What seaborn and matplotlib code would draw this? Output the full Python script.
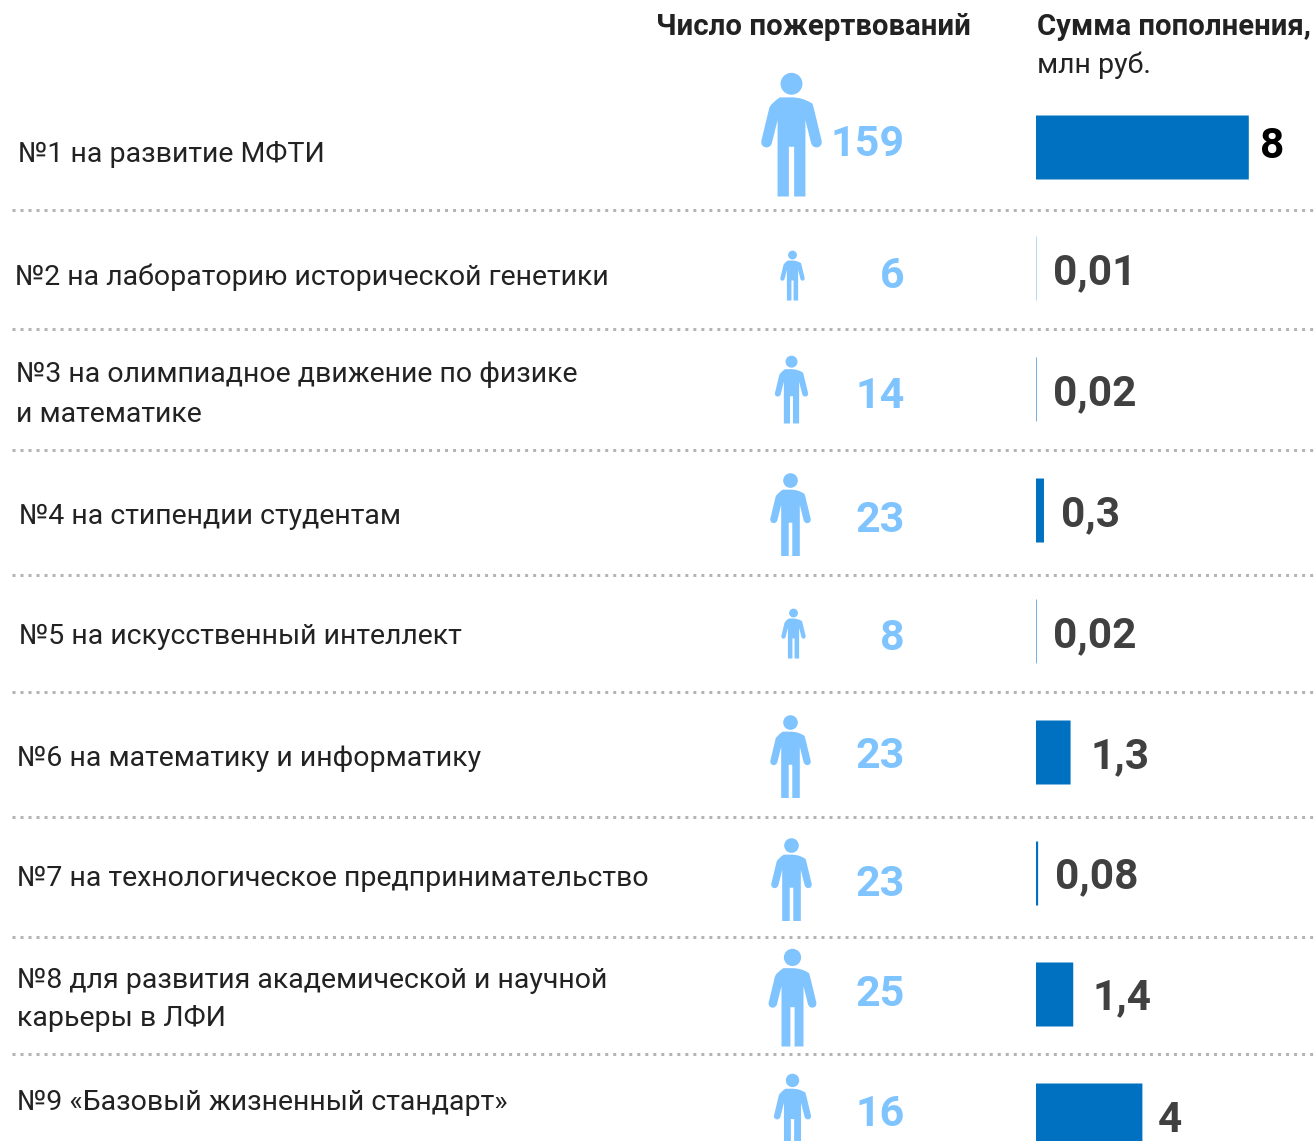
import matplotlib
matplotlib.use("Agg")
import matplotlib.pyplot as plt
import seaborn as sns
import pandas as pd
from matplotlib.path import Path

# Данные
categories = [
    "№1 на развитие МФТИ",
    "№2 на лабораторию исторической генетики",
    "№3 на олимпиадное движение по физике\nи математике",
    "№4 на стипендии студентам",
    "№5 на искусственный интеллект",
    "№6 на математику и информатику",
    "№7 на технологическое предпринимательство",
    "№8 для развития академической и научной\nкарьеры в ЛФИ",
    "№9 «Базовый жизненный стандарт»",
]
donations = [159, 6, 14, 23, 8, 23, 23, 25, 16]
amounts = [8, 0.01, 0.02, 0.3, 0.02, 1.3, 0.08, 1.4, 4]
amount_labels = ["8", "0,01", "0,02", "0,3", "0,02", "1,3", "0,08", "1,4", "4"]

# Раскладка в пикселях
W, H = 1316, 1141
DPI = 100
ROW0, ROW_STEP = 147.5, 121
BAR_H = 64
BAR_X0, PX_PER_UNIT = 1036, 26.6
LINE_GAP = 39
separators = [210, 329, 450, 575, 692, 817, 937, 1054]
label_x = [18, 15, 16, 19, 19, 17, 17, 17, 17]
label_y = [154, 277, 375, 517, 636, 759, 878, 980, 1102]
icon_h = [124, 50, 68, 83, 50, 83, 83, 98, 76]
icon_x = [791, 792, 791, 790, 793, 790, 791, 792, 792]
icon_y = [134, 275, 389, 513.5, 632.5, 755.5, 879, 997, 1111]
count_y = [145, 277, 396, 520, 639, 757, 884, 995, 1115]
value_x = [1260, 1053, 1053, 1061, 1053, 1090, 1055, 1092, 1158]
value_y = [147, 273, 394, 515, 636, 757, 877, 998, 1120]

BLUE = "#0071c1"
LIGHT = "#7fc4ff"
DARK = "#404040"
GREY = "#b4b4b4"
INK = "#222222"

sns.set_theme(style="white")
plt.rcParams["font.family"] = ["Roboto", "DejaVu Sans"]


def person_marker():
    def p(x, y):
        return ((x - 155) / 187, (225 - y) / 187)

    body = [
        (p(155, 113), Path.MOVETO),
        (p(190, 113), Path.CURVE3), (p(218, 132), Path.CURVE3),
        (p(222, 145), Path.LINETO),
        (p(246, 244), Path.LINETO),
        (p(248, 263), Path.CURVE3), (p(230, 264), Path.CURVE3),
        (p(217, 263), Path.CURVE3), (p(214, 250), Path.CURVE3),
        (p(197, 182), Path.LINETO),
        (p(197, 412), Path.LINETO),
        (p(163, 412), Path.LINETO),
        (p(163, 262), Path.LINETO),
        (p(147, 262), Path.LINETO),
        (p(147, 412), Path.LINETO),
        (p(113, 412), Path.LINETO),
        (p(113, 182), Path.LINETO),
        (p(96, 250), Path.LINETO),
        (p(93, 263), Path.CURVE3), (p(80, 264), Path.CURVE3),
        (p(62, 263), Path.CURVE3), (p(64, 244), Path.CURVE3),
        (p(88, 145), Path.LINETO),
        (p(92, 132), Path.CURVE3), (p(120, 113), Path.CURVE3),
        (p(155, 113), Path.LINETO),
        (p(155, 113), Path.CLOSEPOLY),
    ]
    verts = [v for v, c in body]
    codes = [c for v, c in body]
    head = Path.circle(p(155, 72), 33 / 187)
    return Path.make_compound_path(Path(verts, codes), head)


fig = plt.figure(figsize=(W / DPI, H / DPI), dpi=DPI, facecolor="white")

# холст в пикселях для подписей и разделителей
canvas = fig.add_axes([0, 0, 1, 1])
canvas.axis("off")

# столбцы
df = pd.DataFrame({"cat": [str(i) for i in range(len(amounts))], "amount": amounts})
top = ROW0 - ROW_STEP / 2
bottom = top + ROW_STEP * len(amounts)
ax = fig.add_axes([BAR_X0 / W, 1 - bottom / H, (W - BAR_X0) / W, (bottom - top) / H])
sns.barplot(data=df, x="amount", y="cat", color=BLUE, saturation=1,
            width=BAR_H / ROW_STEP, ax=ax)
ax.set_xlim(0, (W - BAR_X0) / PX_PER_UNIT)
ax.axis("off")
ax.patch.set_alpha(0)
# иначе самые тонкие столбцы пропадают при привязке к пикселям
for bar in ax.patches:
    bar.set_snap(False)
    bar.set_linewidth(0)

# человечки
icons = pd.DataFrame({"x": icon_x, "y": icon_y, "s": [(h * 72 / DPI) ** 2 for h in icon_h]})
marker = person_marker()
for _, row in icons.iterrows():
    sns.scatterplot(x=[row["x"]], y=[row["y"]], s=row["s"], marker=marker, color=LIGHT,
                    linewidth=0, ax=canvas, legend=False, clip_on=False)
canvas.set_xlim(0, W)
canvas.set_ylim(H, 0)

# разделители
for y in separators:
    canvas.plot([12, W], [y, y], color=GREY, lw=3 * 72 / DPI, dashes=(1, 1.67), dash_capstyle="butt")

# заголовки
canvas.text(656, 27, "Число пожертвований", fontsize=21.2, fontweight="bold", color=INK, va="center")
canvas.text(1037, 27, "Сумма пополнения,", fontsize=21.1, fontweight="bold", color=INK, va="center")
canvas.text(1037, 65, "млн руб.", fontsize=20.5, color=INK, va="center")

for i, text in enumerate(categories):
    for j, line in enumerate(text.split("\n")):
        canvas.text(label_x[i], label_y[i] + j * LINE_GAP, line, fontsize=20.5, color=INK, va="center")
    canvas.text(905, count_y[i], str(donations[i]), fontsize=31, fontweight="bold", color=LIGHT,
                ha="right", va="center")
    canvas.text(value_x[i], value_y[i], amount_labels[i], fontsize=30.5, fontweight="bold",
                color="black" if i == 0 else DARK, va="center")

fig.savefig("out.png", dpi=DPI)
